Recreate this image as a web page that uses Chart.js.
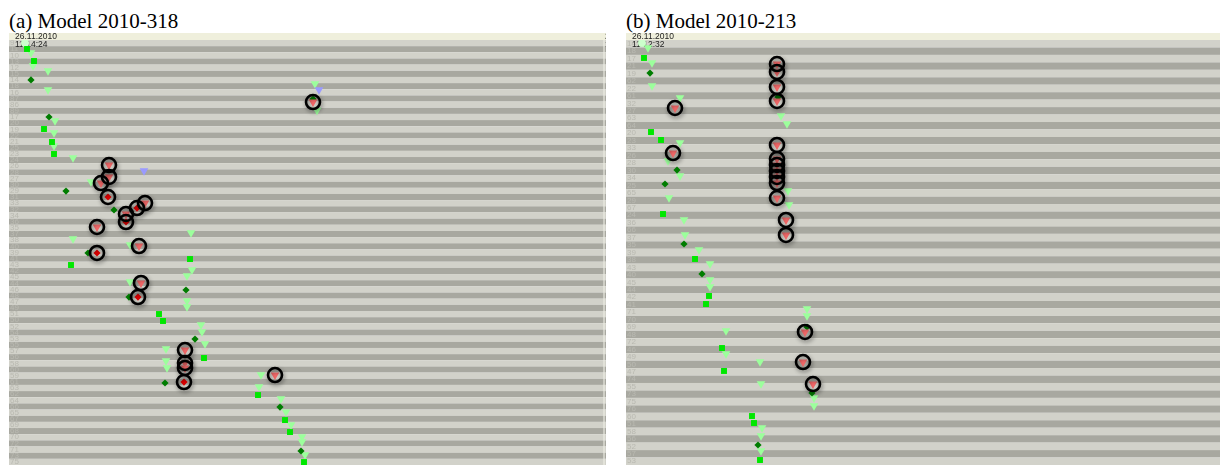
<!DOCTYPE html>
<html>
<head>
<meta charset="utf-8">
<script src="https://cdn.jsdelivr.net/npm/chart.js@4.4.1/dist/chart.umd.min.js"></script>
<style>
  body { margin: 0; background: #fff; width: 1220px; height: 465px; overflow: hidden; position: relative; }
  .ttl { position: absolute; top: 11px; font: 21px/21px "Liberation Serif", "Times New Roman", serif; color: #000; white-space: nowrap; }
  canvas { position: absolute; top: 33px; }
</style>
</head>
<body>
<div class="ttl" style="left:9px">(a) Model 2010-318</div>
<div class="ttl" style="left:626px">(b) Model 2010-213</div>
<canvas id="cA" width="597" height="432" style="left:9px"></canvas>
<canvas id="cB" width="594" height="432" style="left:626px"></canvas>
<script>
// row ids (one per stripe, top to bottom)
const rowLabelsA = ['9','11','10','13','12','15','14','18','16','87','86','89','17','20','19','22','21','25','23','24',
  '26','28','27','30','29','31','33','32','34','36','35','37','38','40','39','41','43','42','45','44',
  '46','48','47','49','51','50','52','54','53','55','57','56','58','60','59','61','63','62','64','66',
  '65','67','69','68','70','72','71','73','75'];
const rowLabelsB = ['14','18','17','21','19','62','22','61','32','27','63','64','20','23','33','26','28','30','34','25',
  '65','29','67','24','36','66','37','35','39','38','43','40','45','44','42','41','71','70','69','48',
  '72','46','49','50','47','74','55','73','75','76','60','51','58','56','52','57','53'];
const stampA = ['26.11.2010', '11:14:24'];
const stampB = ['26.11.2010', '11:12:32'];
const timeMaxA = 597, timeMaxB = 594;

// [time, row]
const startA = [[16, 0.49]];
const squaresA = [[18,1.46],[25,3.41],[35,14.45],[43,16.56],[45,18.51],[181,35.56],[62,36.53],[150,44.49],[154,45.62],
  [195,51.63],[249,57.64],[276,61.70],[281,63.65],[295,68.52]];
const diamondsA = [[22,6.49],[40,12.50],[57,24.52],[105,27.60],[79,34.58],[177,40.59],[120,41.73],[186,48.55],
  [156,55.69],[271,59.59],[292,66.73],[304,9.58]];
const trianglesA = [[22,2.08],[24,4.19],[39,5.0],[39,8.09],[46,13.12],[45,15.07],[45,17.18],[64,19.13],[82,23.02],
  [64,32.28],[121,33.25],[182,31.3],[183,37.31],[178,38.29],[121,39.26],[178,42.34],[178,43.32],[192,46.24],
  [193,47.38],[196,49.33],[157,50.14],[157,52.09],[158,53.22],[252,54.36],[250,56.31],[272,58.26],[277,60.38],
  [282,62.48],[293,64.43],[293,65.24],[296,67.35],[306,7.11],[308,11.4]];
const blueA = [[135,21.24],[310,8.09]];
// flagged events: [time, row, kind] t = triangle, d = diamond
const flaggedA = [[304,10.07,'t'],[100,20.30,'t'],[100,22.24,'t'],[92,23.22,'t'],[99,25.49,'d'],[136,26.47,'t'],
  [128,27.28,'d'],[117,28.25,'t'],[117,29.55,'d'],[88,30.36,'t'],[130,33.45,'t'],[88,34.58,'d'],[132,39.45,'t'],
  [129,41.73,'d'],[176,50.33,'t'],[176,52.44,'t'],[176,53.25,'t'],[175,55.53,'d'],[266,54.39,'t']];

const startB = [[16, 0.40]];
const squaresB = [[18,2.41],[25,12.34],[35,13.41],[37,23.34],[69,29.37],[83,34.33],[80,35.41],[96,41.31],[98,44.39],
  [126,50.43],[128,51.37],[134,56.33]];
const diamondsB = [[24,4.43],[152,7.64],[51,17.44],[39,19.31],[58,27.36],[76,31.38],[181,38.49],[186,47.34],[132,54.32]];
const trianglesB = [[22,1.05],[26,3.06],[26,6.14],[54,7.75],[155,10.17],[161,11.24],[54,13.79],[42,16.2],[54,18.21],
  [43,21.16],[58,24.11],[59,26.13],[73,28.14],[84,30.02],[84,32.16],[84,33.1],[162,20.23],[163,22.1],[181,36.05],
  [181,36.99],[100,39.0],[100,42.09],[134,43.16],[135,46.11],[188,47.99],[188,49.06],[136,52.01],[135,53.08],[135,55.1]];
const blueB = [];
const flaggedB = [[151,3.22,'t'],[151,4.29,'t'],[151,6.30,'t'],[151,8.18,'t'],[49,9.12,'t'],[151,14.08,'t'],[47,15.16,'t'],
  [151,15.96,'t'],[151,16.76,'t'],[151,17.57,'t'],[151,18.37,'t'],[151,19.18,'t'],[151,21.19,'t'],[160,24.14,'t'],
  [160,26.15,'t'],[179,39.16,'t'],[177,43.19,'t'],[187,46.14,'t']];

const C = {
  light: '#d2d2ca', dark: '#a8a8a0', band: '#efefdc', label: '#b9b9b1',
  tri: '#9cff9c', sq: '#00e800', dia: '#007d00', red: '#f26868', redDia: '#dd0000', blue: '#9a9aff', start: '#ccffcc'
};

const pts = arr => arr.map(d => ({ x: d[0], y: d[1] }));

function backdrop(rows, stamp, edge) {
  return {
    id: 'backdrop',
    beforeDraw(chart) {
      const { ctx, chartArea: a, scales: { y } } = chart;
      ctx.save();
      ctx.fillStyle = C.band;
      ctx.fillRect(0, 0, chart.width, a.top);
      for (let i = 0; i < rows; i++) {
        const t = y.getPixelForValue(i), b = y.getPixelForValue(i + 1);
        ctx.fillStyle = i % 2 ? C.dark : C.light;
        ctx.fillRect(a.left, t, a.right - a.left, b - t);
      }
      if (edge) {
        ctx.fillStyle = 'rgba(238,238,230,0.55)';
        ctx.fillRect(a.right - 3, a.top, 2, a.bottom - a.top);
      }
      ctx.restore();
    },
    beforeDatasetsDraw(chart) {
      const ctx = chart.ctx;
      ctx.save();
      ctx.fillStyle = '#222';
      ctx.font = '8.5px "Liberation Sans", Arial, sans-serif';
      ctx.fillText(stamp[0], 6, 6);
      ctx.fillText(stamp[1], 6, 13.5);
      if (edge) {
        ctx.fillText(stamp[0], chart.width - 1, 6);
        ctx.fillText(':', chart.width - 1, 13.5);
      }
      ctx.restore();
    },
    // soft drop shadow under the black rings
    beforeDatasetDraw(chart, args) {
      if (!chart.data.datasets[args.index].shadow) return;
      const ctx = chart.ctx;
      ctx.save();
      ctx.shadowColor = 'rgba(0,0,0,0.45)';
      ctx.shadowBlur = 4;
      ctx.shadowOffsetX = 1;
      ctx.shadowOffsetY = 2;
    },
    afterDatasetDraw(chart, args) {
      if (chart.data.datasets[args.index].shadow) chart.ctx.restore();
    }
  };
}

function panel(id, d) {
  const rows = d.labels.length;
  return new Chart(document.getElementById(id), {
    type: 'scatter',
    data: {
      datasets: [
        { data: pts(d.flagged), pointStyle: 'circle', pointRadius: 7, pointBorderWidth: 2.6,
          pointBorderColor: '#000', pointBackgroundColor: 'rgba(0,0,0,0)', shadow: true },
        { data: pts(d.flagged.filter(f => f[2] === 'd')), pointStyle: 'rectRot', pointRadius: 3.6,
          pointBackgroundColor: C.redDia, pointBorderWidth: 0 },
        { data: pts(d.flagged.filter(f => f[2] === 't')), pointStyle: 'triangle', pointRotation: 180, pointRadius: 5,
          pointBackgroundColor: C.red, pointBorderWidth: 0 },
        { data: pts(d.blue), pointStyle: 'triangle', pointRotation: 180, pointRadius: 5,
          pointBackgroundColor: C.blue, pointBorderWidth: 0 },
        { data: pts(d.diamonds), pointStyle: 'rectRot', pointRadius: 3.6,
          pointBackgroundColor: C.dia, pointBorderWidth: 0 },
        { data: pts(d.squares), pointStyle: 'rect', pointRadius: 4.2,
          pointBackgroundColor: C.sq, pointBorderWidth: 0 },
        { data: pts(d.triangles), pointStyle: 'triangle', pointRotation: 180, pointRadius: 5,
          pointBackgroundColor: C.tri, pointBorderWidth: 0 },
        { data: pts(d.start), pointStyle: 'circle', pointRadius: 4,
          pointBackgroundColor: C.start, pointBorderWidth: 0 }
      ]
    },
    options: {
      responsive: false,
      animation: false,
      devicePixelRatio: 1,
      events: [],
      layout: { autoPadding: false, padding: { top: 7, left: 0, right: 0, bottom: 0 } },
      plugins: { legend: { display: false }, tooltip: { enabled: false } },
      scales: {
        x: { type: 'linear', min: 0, max: d.timeMax, display: false },
        y: {
          type: 'linear', min: 0, max: rows, reverse: true, position: 'left',
          grid: { display: false }, border: { display: false },
          afterFit: s => { s.width = 0; s.paddingTop = 0; s.paddingBottom = 0; },
          afterBuildTicks: s => { s.ticks = d.labels.map((_, i) => ({ value: i + 0.5 })); },
          ticks: {
            mirror: true, padding: 1, autoSkip: false, color: C.label,
            font: { family: '"Liberation Sans", Arial, sans-serif', size: 8 },
            callback: (v, i) => d.labels[i]
          }
        }
      }
    },
    plugins: [backdrop(rows, d.stamp, d.edge)]
  });
}

panel('cA', { labels: rowLabelsA, stamp: stampA, timeMax: timeMaxA, edge: true, start: startA, squares: squaresA,
  diamonds: diamondsA, triangles: trianglesA, blue: blueA, flagged: flaggedA });
panel('cB', { labels: rowLabelsB, stamp: stampB, timeMax: timeMaxB, edge: false, start: startB, squares: squaresB,
  diamonds: diamondsB, triangles: trianglesB, blue: blueB, flagged: flaggedB });
</script>
</body>
</html>
